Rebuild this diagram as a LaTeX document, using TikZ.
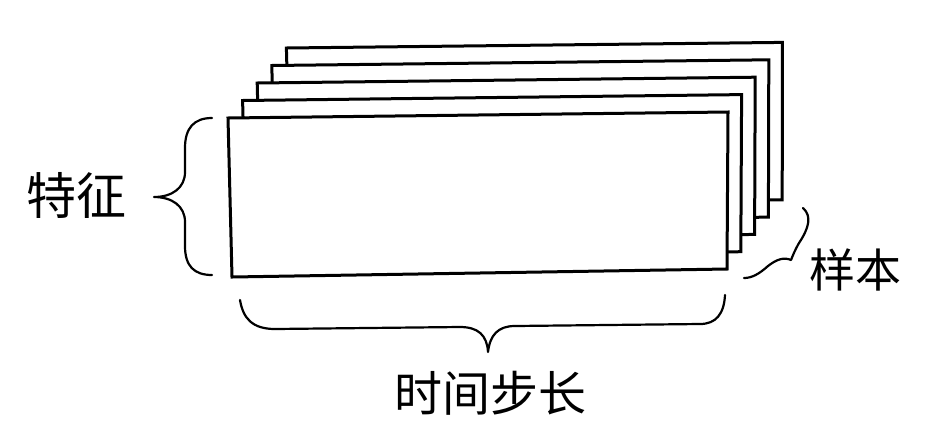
\documentclass[tikz,border=0pt]{standalone}
\usepackage{fontspec}
\newfontfamily\cjk{Noto Sans CJK SC}
\begin{document}
\begin{tikzpicture}[x=1pt,y=-1pt,
  layer/.style={draw=black,fill=white,line width=3pt,line join=miter},
  bracepath/.style={draw=black,line width=2.2pt,line cap=round,line join=round},
  lbl/.style={font=\cjk, text=black, inner sep=0pt}]
\useasboundingbox[fill=white] (0,0) rectangle (952,440);
% stacked sheets, back to front
\foreach \k in {4,3,2,1,0}{
  \draw[layer] ({228+14.6*\k},{118-17.5*\k}) coordinate (tl\k)
    -- ({728+13.6*\k},{112-17.4*\k}) coordinate (tr\k)
    -- ({727+13.8*\k},{269-17.3*\k}) coordinate (br\k)
    -- ({232+14.6*\k},{277-17.5*\k}) coordinate (bl\k) -- cycle;
}
% labels
\node[lbl,font=\cjk\fontsize{50}{50}\selectfont] (feat) at (76,195) {特征};
\node[lbl,font=\cjk\fontsize{48}{48}\selectfont] (time) at (490,393) {时间步长};
\node[lbl,font=\cjk\fontsize{46}{46}\selectfont] (samp) at (855,270) {样本};
% left brace
\draw[bracepath] (212,118) .. controls (194,118) and (185,128) .. (185,148)
  -- (185,172) .. controls (185,188) and (172,197) .. (154,197)
  .. controls (172,197) and (185,206) .. (185,222)
  -- (185,246) .. controls (185,266) and (194,275) .. (212,275);
% bottom brace
\draw[bracepath] (240,300) .. controls (243,318) and (252,329) .. (275,329)
  -- (460,327) .. controls (478,327) and (487,335) .. (488,352)
  .. controls (490,335) and (498,326) .. (515,326)
  -- (700,324) .. controls (716,324) and (724,314) .. (725,295);
% right (samples) brace
\draw[bracepath] (803,208) .. controls (812,216) and (809,228) .. (799,243)
  .. controls (795,250) and (793,255) .. (791,260)
  .. controls (784,257) and (777,259) .. (768,266)
  .. controls (759,274) and (752,278) .. (744,278);
\end{tikzpicture}
\end{document}
